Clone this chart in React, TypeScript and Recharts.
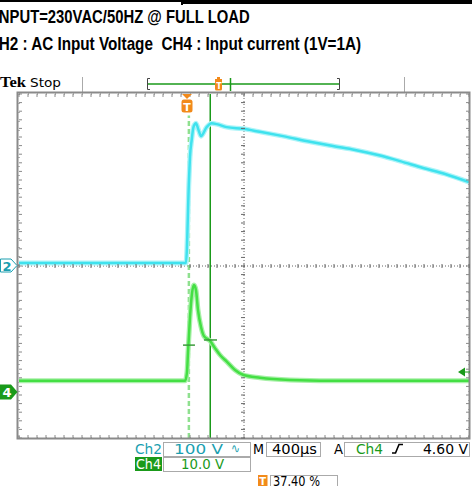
import React from 'react';
import { ComposedChart, Line, XAxis, YAxis, CartesianGrid, ReferenceLine } from 'recharts';

// time base: 400us/div, 10 div
const timeTicks = [0, 400, 800, 1200, 1600, 2000, 2400, 2800, 3200, 3600, 4000];
// ch2 100V/div, 8 div
const voltTicks = [-400, -300, -200, -100, 0, 100, 200, 300, 400];

// CH2 : AC input voltage (V)
const voltTime = [0, 1484, 1511, 1520, 1535, 1549, 1564, 1573, 1596, 1618, 1668, 1713, 1757, 1846, 1991, 2142, 2347, 2587, 2791, 2987, 3191, 3387, 3591, 3787, 4000];
const voltValue = [7, 7, 200, 254, 293, 321, 330, 332, 316, 302, 323, 332, 330, 323, 319, 312, 302, 289, 279, 270, 258, 244, 228, 214, 195];

// CH4 : input current (A), 10A/div
const currTime = [0, 1476, 1493, 1502, 1520, 1538, 1556, 1573, 1591, 1618, 1644, 1698, 1742, 1787, 1849, 1920, 1991, 2142, 2409, 2942, 4000];
const currValue = [2.6, 2.6, 4.5, 9.1, 17.4, 23.0, 24.9, 23.7, 19.1, 15.1, 13.0, 11.9, 10.2, 8.6, 7.0, 5.1, 4.0, 3.3, 2.8, 2.6, 2.6];

const CH4_OFFSET = 29.3; // ground marker 2.93 div below centre
const TRIGGER_T = 1510;
const CURSOR_T = 1700;
const cursorMarks = [
  { t0: 1458, t1: 1564, a: 10.9 },
  { t0: 1644, t1: 1760, a: 12.1 },
];

const voltData = voltTime.map((t, i) => ({ t, v: voltValue[i] }));
const currData = currTime.map((t, i) => ({ t, a: currValue[i] }));

const TEAL = '#1b9fb0';
const CYAN = '#3fe2ee';
const GREEN = '#44df44';
const DKGREEN = '#1a9a1a';
const ORANGE = '#f28a1a';
const GRAY = '#8a8a8a';

const Overlay = () => {
  const ticks: React.ReactNode[] = [];
  for (let k = 0; k <= 50; k++) {
    const x = 19 + k * 9;
    ticks.push(<line key={'t' + k} x1={x} x2={x} y1={94} y2={97} stroke={GRAY} />);
    ticks.push(<line key={'b' + k} x1={x} x2={x} y1={435} y2={438} stroke={GRAY} />);
    ticks.push(<line key={'c' + k} x1={x} x2={x} y1={264} y2={268} stroke="#666" />);
  }
  for (let k = 0; k <= 40; k++) {
    const y = 94 + k * 8.6;
    ticks.push(<line key={'l' + k} x1={19} x2={22} y1={y} y2={y} stroke={GRAY} />);
    ticks.push(<line key={'r' + k} x1={466} x2={469} y1={y} y2={y} stroke={GRAY} />);
    ticks.push(<line key={'m' + k} x1={241} x2={245} y1={y} y2={y} stroke="#666" />);
  }
  const ro = { fontFamily: 'DejaVu Sans', fontSize: 14, lengthAdjust: 'spacingAndGlyphs' as const };
  return (
    <svg width={472} height={486} style={{ position: 'absolute', left: 0, top: 0, pointerEvents: 'none' }}>
      {/* top rule */}
      <rect x={0} y={0} width={181} height={2} fill="#000" />
      <rect x={181} y={0} width={2} height={5} fill="#000" />
      <rect x={183} y={0} width={289} height={4} fill="#000" />

      <text x={-5.3} y={23} fontFamily="Liberation Sans" fontWeight="bold" fontSize={19} textLength={255} lengthAdjust="spacingAndGlyphs">
        INPUT=230VAC/50HZ @ FULL LOAD
      </text>
      <text x={-12.4} y={50} fontFamily="Liberation Sans" fontWeight="bold" fontSize={18.5} textLength={373.5} lengthAdjust="spacingAndGlyphs" style={{ whiteSpace: 'pre' }}>
        {'CH2 : AC Input Voltage  CH4 : Input current (1V=1A)'}
      </text>

      <text x={0} y={87} fontFamily="Liberation Serif" fontWeight="bold" fontSize={14} textLength={26} lengthAdjust="spacingAndGlyphs">Tek</text>
      <text x={30} y={87} fontFamily="DejaVu Sans" fontSize={13} textLength={31} lengthAdjust="spacingAndGlyphs">Stop</text>

      {/* record view bar */}
      <line x1={82.5} x2={82.5} y1={77} y2={92} stroke="#aaa" />
      <line x1={404.5} x2={404.5} y1={77} y2={92} stroke="#aaa" />
      <path d="M150,78.5 H147.5 V89.5 H150" fill="none" stroke="#444" />
      <path d="M337,78.5 H339.5 V89.5 H337" fill="none" stroke="#444" />
      <line x1={148} x2={339} y1={84} y2={84} stroke={DKGREEN} strokeWidth={1.5} />
      <line x1={230.5} x2={230.5} y1={78} y2={91} stroke={DKGREEN} strokeWidth={1.5} />
      <path d="M217,77 h3 v2 h2 v10 a1.5,1.5 0 0 1 -1.5,1.5 h-4 a1.5,1.5 0 0 1 -1.5,-1.5 v-10 h2 z" fill={ORANGE} />
      <text x={219} y={88.5} fill="#fff" fontFamily="DejaVu Sans" fontWeight="bold" fontSize={8} textAnchor="middle">T</text>

      {/* graticule frame + minor ticks */}
      <rect x={17.5} y={92.5} width={452} height={346} fill="none" stroke={GRAY} strokeWidth={2} />
      {ticks}

      {/* trigger position marker */}
      <path d="M182,94 H192 L187,99 Z" fill={ORANGE} />
      <rect x={181.5} y={99.5} width={11} height={13} rx={2.5} fill={ORANGE} />
      <text x={187} y={110.5} fill="#fff" fontFamily="DejaVu Sans" fontWeight="bold" fontSize={11} textAnchor="middle">T</text>

      {/* channel ground markers */}
      <path d="M0.5,259 H11 L17,265.5 L11,272 H0.5 Z" fill="#fff" stroke={TEAL} />
      <text x={7} y={270.5} fill={TEAL} fontFamily="DejaVu Sans" fontWeight="bold" fontSize={13} textAnchor="middle">2</text>
      <path d="M0,384.5 H11 L17.5,392 L11,399.5 H0 Z" fill={DKGREEN} />
      <text x={7} y={397} fill="#fff" fontFamily="DejaVu Sans" fontWeight="bold" fontSize={13} textAnchor="middle">4</text>

      {/* trigger level */}
      <path d="M458,372 L465,367.5 V376.5 Z" fill={DKGREEN} />
      <line x1={465} x2={470} y1={372} y2={372} stroke={DKGREEN} />

      {/* readouts row 1 */}
      <text {...ro} x={135} y={453.5} fill={TEAL} textLength={27}>Ch2</text>
      <rect x={163.5} y={442.5} width={87} height={14} fill="none" stroke="#aaa" />
      <text {...ro} x={174} y={453.5} fill={TEAL} textLength={49} style={{ whiteSpace: 'pre' }}>100 V</text>
      <text {...ro} x={231} y={453} fill={TEAL} fontSize={13} textLength={9}>∿</text>
      <text {...ro} x={253} y={453.5} fill="#000" textLength={11}>M</text>
      <rect x={266.5} y={442.5} width={54} height={14} fill="none" stroke="#aaa" />
      <text {...ro} x={272} y={453.5} fill="#000" textLength={45}>400µs</text>
      <text {...ro} x={334} y={453.5} fill="#000" textLength={9}>A</text>
      <rect x={344.5} y={442.5} width={125} height={14} fill="none" stroke="#aaa" />
      <text {...ro} x={356} y={453.5} fill={DKGREEN} textLength={27}>Ch4</text>
      <path d="M392,453 H395.5 L399,444.5 H403" fill="none" stroke="#000" strokeWidth={1.6} />
      <text {...ro} x={423} y={453.5} fill="#000" textLength={45} style={{ whiteSpace: 'pre' }}>4.60 V</text>

      {/* row 2 */}
      <rect x={135} y={457} width={27} height={14} fill={DKGREEN} />
      <text {...ro} x={136} y={468.5} fill="#fff" textLength={25}>Ch4</text>
      <rect x={163.5} y={457.5} width={87} height={14} fill="none" stroke="#aaa" />
      <text {...ro} x={181} y={468.5} fill={DKGREEN} textLength={43} style={{ whiteSpace: 'pre' }}>10.0 V</text>

      {/* row 3 */}
      <rect x={258} y={475} width={9.5} height={11} fill={ORANGE} />
      <text x={262.7} y={484.5} fill="#fff" fontFamily="DejaVu Sans" fontWeight="bold" fontSize={10} textAnchor="middle">T</text>
      <rect x={270.5} y={475.5} width={67} height={14} fill="none" stroke="#aaa" />
      <text {...ro} x={273} y={485.5} fill="#000" fontSize={13.5} textLength={47} style={{ whiteSpace: 'pre' }}>37.40 %</text>
    </svg>
  );
};

export default function App() {
  return (
    <div style={{ position: 'fixed', left: 0, top: 0, width: 472, height: 486, background: '#fff', overflow: 'hidden' }}>
      <div style={{ position: 'absolute', left: 0, top: 0 }}>
        <ComposedChart width={472} height={486} margin={{ top: 94, right: 3, bottom: 48, left: 19 }}>
          <CartesianGrid yAxisId="v" stroke="#666" strokeDasharray="1 8" />
          <XAxis type="number" dataKey="t" domain={[0, 4000]} ticks={timeTicks} height={0} tick={false} axisLine={false} tickLine={false} allowDataOverflow />
          <YAxis yAxisId="v" type="number" domain={[-400, 400]} ticks={voltTicks} width={0} tick={false} axisLine={false} tickLine={false} allowDataOverflow />
          <YAxis yAxisId="i" type="number" domain={[-40 + CH4_OFFSET, 40 + CH4_OFFSET]} width={0} tick={false} axisLine={false} tickLine={false} allowDataOverflow />
          <ReferenceLine yAxisId="v" y={0} stroke="#666" strokeDasharray="1 2" />
          <ReferenceLine yAxisId="v" x={2000} stroke="#666" strokeDasharray="1 2" />
          <ReferenceLine yAxisId="v" segment={[{ x: TRIGGER_T, y: -400 }, { x: TRIGGER_T, y: 350 }]} stroke="#8fe08f" strokeWidth={2.5} strokeDasharray="5 3" />
          <ReferenceLine yAxisId="v" x={CURSOR_T} stroke={DKGREEN} strokeWidth={1.5} />
          <Line data={voltData} dataKey="v" yAxisId="v" type="monotone" stroke="#aef4f8" strokeWidth={5} dot={false} isAnimationActive={false} />
          <Line data={voltData} dataKey="v" yAxisId="v" type="monotone" stroke={CYAN} strokeWidth={2.5} dot={false} isAnimationActive={false} />
          <Line data={currData} dataKey="a" yAxisId="i" type="monotone" stroke="#a8f0a8" strokeWidth={5} dot={false} isAnimationActive={false} />
          <Line data={currData} dataKey="a" yAxisId="i" type="monotone" stroke={GREEN} strokeWidth={2.5} dot={false} isAnimationActive={false} />
          {cursorMarks.map((m, i) => (
            <ReferenceLine key={i} yAxisId="i" segment={[{ x: m.t0, y: m.a }, { x: m.t1, y: m.a }]} stroke="#3a9a3a" strokeWidth={1.5} />
          ))}
        </ComposedChart>
      </div>
      <Overlay />
    </div>
  );
}
